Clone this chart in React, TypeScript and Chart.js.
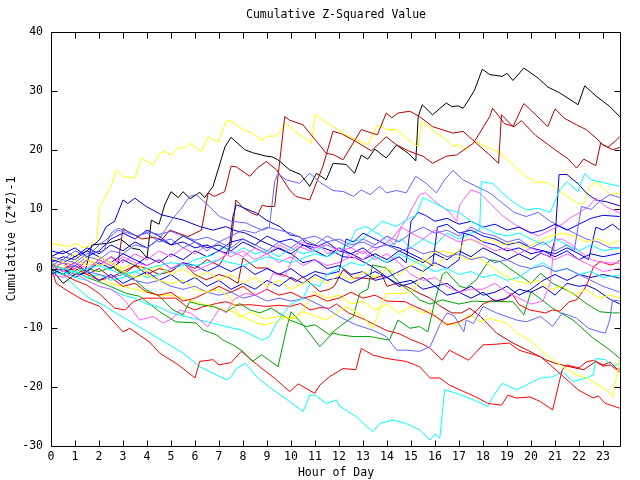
import React, { useEffect, useRef } from "react";
import { Chart, registerables } from "chart.js";

Chart.register(...registerables);

type P = [number, number];

const hourTicks: number[] = [0, 1, 2, 3, 4, 5, 6, 7, 8, 9, 10, 11, 12, 13, 14, 15, 16, 17, 18, 19, 20, 21, 22, 23];
const valueTicks: number[] = [-30, -20, -10, 0, 10, 20, 30, 40];
const X_MAX = 23.75;

const chartTitle = "Cumulative Z-Squared Value";
const xTitle = "Hour of Day";
const yTitle = "Cumulative (Z*Z)-1";

const black1: P[] = [[0,0],[0.5,-2.5],[1.0,-1],[1.4,-0.8],[1.7,4],[2.4,4.3],[2.9,5],[3.4,3.4],[3.7,3.2],[4.0,1.8],[4.18,8.2],[4.5,7.5],[4.74,10.8],[5.0,13],[5.3,12],[5.5,13],[5.8,11.8],[6.2,12.9],[6.4,12],[6.75,13.9],[7.25,20.6],[7.5,22.2],[8.07,20.1],[8.4,19.6],[8.97,19],[9.2,18.9],[9.45,18.4],[9.94,16.7],[10.4,15.9],[10.78,13.9],[11.06,16.1],[11.47,15],[11.75,17.8],[12.3,17.6],[12.65,16.1],[12.93,19.2],[13.2,18.5],[13.49,20.2],[13.97,18.7],[14.4,20.9],[14.88,19.5],[15.2,18.2],[15.3,25.7],[15.47,27.7],[15.9,26],[16.47,28],[16.7,27.4],[16.97,27.5],[17.17,27.1],[17.4,28.5],[17.65,30.2],[17.97,33.7],[18.28,32.8],[18.8,32.5],[19.0,33],[19.25,31.8],[19.7,33.9],[20.3,32.2],[20.7,30.7],[21.2,29.7],[21.96,27.7],[22.24,30.9],[22.7,29.2],[23.28,27.4],[23.7,25.7]];

const yellowTop: P[] = [[0,4.3],[0.4,4],[0.78,3.7],[1.06,4.3],[1.33,3.5],[1.7,4],[1.9,4.9],[2.03,10.5],[2.5,13.9],[2.73,16.7],[3.0,15.6],[3.49,15.3],[3.77,18.7],[4.25,17.5],[4.53,19.5],[4.75,19.8],[5.0,19.2],[5.3,20.4],[5.55,20.4],[5.78,21.2],[6.27,19.8],[6.54,22.3],[6.96,21.3],[7.3,24.9],[7.5,25],[8.0,23.5],[8.4,22.9],[8.77,21.7],[9.05,22.4],[9.4,22.4],[9.8,24.6],[10.15,23.2],[10.5,22.3],[10.85,21.2],[11.0,26],[11.3,25.2],[11.75,24],[12.45,22.3],[13.2,20.9],[13.6,24.3],[14.0,23.5],[14.4,23.5],[14.8,22.1],[15.3,20.6],[15.43,24.9],[15.99,23.2],[16.47,21.8],[16.75,20.6],[16.95,21],[17.3,20.1],[17.65,21.5],[18.28,20.4],[18.7,19.5],[19.18,17.8],[19.8,15.6],[20.2,14.6],[20.7,14.6],[21.5,12.2],[22.0,10.9],[22.2,11],[22.44,13.9],[22.7,14.7],[23.28,12.5],[23.7,12.8]];

const darkRedJump: P[] = [[0,0.5],[0.5,-0.5],[1,0.5],[1.5,-1],[2,0],[2.5,-1.5],[3,-0.5],[3.5,0.5],[4,-1],[4.5,0],[5,-0.5],[5.5,1],[6,0],[6.5,1.5],[7.0,0.5],[7.5,4],[7.7,11.6],[8.0,10.3],[8.35,9.4],[8.6,9.0],[8.8,10.7],[9.0,10.5],[9.32,10.5],[9.74,25.7],[9.94,25.1],[10.5,24.3],[11.47,19.5],[11.8,19.2],[12.17,18.4],[12.93,23.5],[13.6,22.6],[13.97,26.3],[14.2,25.5],[14.46,26.3],[14.95,26.6],[15.36,25.7],[15.9,24],[16.75,22.9],[17.17,23.2],[17.72,21.2],[18.28,19.2],[18.65,17.8],[18.77,26],[19.25,24],[19.7,27.9],[20.2,26],[20.7,24],[21.0,27],[21.4,25.4],[21.9,24.3],[22.3,23.5],[22.7,22.1],[23.0,20.9],[23.4,20.1],[23.7,20.5]];

const darkRedRise: P[] = [[0,0],[0.5,1],[1,-0.5],[1.5,1.5],[2,0.5],[2.5,2],[2.8,1],[3.0,6.8],[3.3,6],[3.8,5],[4.3,5.3],[4.6,4.8],[4.95,6.5],[5.3,6],[5.7,5.4],[6.27,6.5],[6.55,12.8],[6.8,12.2],[7.24,13],[7.5,17.3],[7.72,17.2],[8.28,15.6],[8.6,17],[8.97,18.1],[9.4,16.7],[9.94,13.3],[10.2,12.2],[10.78,11.6],[11.33,17.3],[11.75,23.2],[12.1,22.8],[12.7,21.5],[13.35,19.9],[13.97,22.3],[14.4,20.9],[14.95,19.8],[15.5,19],[15.9,17.8],[16.47,19],[16.9,19.2],[17.6,21.2],[18.28,25.7],[18.4,27.1],[18.9,24.5],[19.3,24],[19.6,25],[20.2,22.5],[20.7,21],[21.2,19.5],[21.5,18.7],[21.9,17],[22.2,18.5],[22.7,17.4],[22.9,21.2],[23.2,20.5],[23.5,21.5],[23.7,22.3]];

const darkRedFall: P[] = [[0,0.8],[0.5,0],[1,1],[1.5,-0.5],[2,1.5],[2.5,0.5],[3,-1],[3.5,0.5],[4,0],[4.5,-1],[5,-0.5],[5.5,1],[6,-1],[6.47,-1.9],[7,-1],[7.4,-1.5],[7.79,-2.5],[8.0,1.8],[8.55,0.1],[9.0,0.1],[9.4,-0.8],[9.8,-1.2],[10.2,-2.2],[10.5,-1.4],[10.9,-2.8],[11.2,-3.9],[11.6,-3.5],[11.8,-3.0],[12.17,-0.2],[12.6,-1.6],[13.0,-1.6],[13.4,-1.8],[13.8,-1.2],[14.0,-3],[14.4,-2.5],[14.8,-3],[15.36,-4.2],[15.8,-5],[16.2,-6.3],[16.7,-7.5],[17.1,-7.5],[17.45,-6.7],[17.9,-8.1],[18.56,-10.9],[19.25,-12.6],[19.95,-14],[20.6,-15.4],[21.0,-16],[21.6,-16.6],[22.2,-17.1],[22.7,-15.7],[23.0,-16.3],[23.3,-15.8],[23.56,-16.9],[23.7,-17]];

const cyanLow: P[] = [[0,0],[0.5,-1],[1,-3],[1.6,-5],[2.2,-6.2],[2.7,-7.5],[3.4,-9.2],[4.11,-10.9],[4.8,-12.6],[5.5,-14.3],[6.2,-16.6],[6.75,-17.7],[7.3,-18.8],[7.5,-18.3],[7.73,-16.9],[8.1,-16],[8.56,-18.3],[9.25,-20.5],[9.95,-22.5],[10.5,-24.2],[10.78,-21.4],[11.0,-21.4],[11.47,-22.8],[11.9,-22.2],[12.0,-23.2],[12.7,-25],[13.4,-27.6],[13.7,-26.2],[14.25,-25.6],[14.8,-26.2],[15.36,-27.3],[15.8,-29],[16.0,-28],[16.2,-28.7],[16.4,-20.5],[16.9,-21.1],[17.6,-22.2],[18.2,-23.3],[18.4,-21.7],[18.8,-19.4],[19.4,-20.5],[19.8,-19.7],[20.4,-18.5],[20.9,-18.3],[21.3,-17.4],[21.75,-19.1],[22.3,-18.5],[22.6,-18],[22.7,-15.2],[23.1,-15.4],[23.4,-16.6],[23.7,-16]];

const redLow: P[] = [[0,0],[0.22,-2.5],[0.7,-3.8],[1.33,-5.3],[2.03,-6.4],[2.5,-8.5],[3.0,-10.7],[3.28,-10.1],[4.1,-12.4],[4.53,-14.3],[5.2,-16],[5.5,-16.9],[6.0,-18.5],[6.2,-15.7],[6.75,-15.4],[7.0,-16.3],[7.5,-15.9],[7.93,-14],[8.1,-14.6],[8.7,-16.6],[9.3,-18.5],[9.95,-20.8],[10.3,-19.5],[10.99,-21.1],[11.2,-19.7],[11.6,-18.3],[12.17,-16.9],[12.7,-17.1],[12.93,-13.5],[13.4,-14.6],[13.97,-15.2],[14.8,-15.7],[15.36,-16.6],[15.8,-18.5],[16.2,-18.5],[16.6,-19.7],[17.2,-20.8],[17.7,-21.7],[18.2,-22.8],[18.77,-23.1],[19.04,-21.4],[19.4,-21.9],[19.95,-21.7],[20.4,-22.5],[20.9,-23.9],[21.3,-17.1],[21.5,-16.3],[22.0,-16.8],[22.3,-15.8],[22.6,-15.5],[23.0,-16.5],[23.3,-16.3],[23.7,-17.5]];

const redDescend: P[] = [[0,0],[0.5,-1],[1,-2],[1.5,-2.8],[2,-4.2],[2.66,-6.7],[3.1,-7],[3.42,-5.6],[3.84,-5],[4.4,-5],[5.2,-5],[5.64,-6.4],[6.0,-7],[6.3,-6.5],[6.9,-5.9],[7.3,-5.6],[7.7,-6.2],[8.28,-6.1],[8.97,-6.4],[9.5,-6.2],[9.95,-6.4],[10.4,-5.9],[10.8,-7],[11.2,-6.6],[11.6,-6.7],[11.9,-6],[12.4,-7.5],[13.0,-8.5],[13.5,-9.5],[14.0,-10.5],[14.5,-11],[15.0,-12],[15.5,-12.8],[15.8,-13.5],[16.3,-15.5],[16.6,-13.8],[17.4,-15.5],[18.0,-12.9],[18.5,-12.8],[19.1,-12.6],[19.5,-13.8],[20.4,-14.9],[21.0,-17],[21.5,-18.8],[21.96,-20.5],[22.6,-21.9],[22.8,-21.5],[23.1,-22.8],[23.7,-23.6]];

const redMid: P[] = [[0,0.5],[0.5,-0.5],[1,0],[1.5,-1],[2,-2],[2.5,-1.5],[3,-3],[3.5,-2.5],[4,-4],[4.5,-4.5],[5,-4],[5.5,-5.5],[6,-5],[6.5,-4],[7,-3],[7.5,-4],[8,-3],[8.5,-4.5],[9,-3.5],[9.5,-4.5],[10,-4],[10.5,-5],[11,-4.5],[11.5,-5.5],[12,-5],[12.5,-4],[13,-5],[13.5,-4.5],[14,-5.5],[14.75,-5.6],[15,-6.1],[15.5,-7],[16,-8],[16.5,-9.5],[17,-9],[17.5,-8],[18,-6],[18.4,-5.3],[18.8,-5.5],[19.2,-4.2],[19.5,-6.1],[19.95,-7],[20.6,-7.5],[20.9,-7],[21.2,-7.2],[21.6,-5.6],[21.9,-5.3],[22.2,-3.6],[22.35,-2.5],[22.6,0.3],[22.9,1.2],[23.3,0.6],[23.56,0.9],[23.7,1.5]];

const greenA: P[] = [[0,0],[0.5,-1],[1,-0.5],[1.5,-1.5],[2.17,-2.5],[3.14,-4.2],[3.7,-4.7],[4.53,-7.3],[5.2,-9],[6.05,-9.2],[6.33,-10.4],[6.9,-11.2],[7.17,-12.1],[7.58,-12.9],[8.0,-14],[8.4,-15.7],[8.77,-14.6],[9.1,-15.5],[9.46,-16.6],[9.8,-10.4],[10.0,-7.3],[10.5,-9.5],[11.2,-13.2],[11.75,-10.9],[12.03,-11.2],[12.6,-11.5],[13.3,-11.5],[14.1,-12.1],[14.46,-8.7],[14.95,-10.1],[15.36,-9.8],[15.7,-10.7],[15.99,-5.6],[16.3,-1.1],[16.47,-0.5],[17.03,-3],[17.3,-3.3],[17.72,-1.9],[18.28,1.5],[18.7,1.2],[19.5,-1.1],[20.0,-2.5],[20.4,-0.8],[20.9,-2.5],[21.75,-4.2],[22.3,-5.9],[22.86,-7.3],[23.4,-7.5],[23.7,-7.5]];

const greenB: P[] = [[0,0.5],[0.5,0],[1,-1],[1.5,0],[2,-0.5],[2.58,0.3],[3.35,-1.4],[3.97,-3.6],[4.53,-4.7],[5.08,-7],[5.5,-7.8],[5.78,-5.6],[6.2,-6.1],[6.75,-6.4],[7.3,-7.3],[7.86,-5.9],[8.3,-7],[8.7,-7.5],[9.18,-6.7],[9.95,-8.7],[10.64,-9.8],[11.0,-9.5],[11.6,-11.2],[12.03,-9.8],[12.6,-8.1],[12.86,-4.2],[13.2,-3.5],[13.4,0.6],[13.97,0.1],[14.53,-2.5],[15.0,-4],[15.36,-5.3],[15.8,-6],[16.3,-5.3],[17,-6],[17.6,-5.5],[18.1,-5.6],[19.25,-5.6],[19.7,-7.8],[20.0,-3.9],[20.9,-6.7],[21.75,-8.7],[22.6,-11.8],[23.3,-13.8],[23.7,-15.2]];

const cyanMid: P[] = [[0,0],[0.5,-0.5],[1,-1.5],[1.5,-2],[2,-3],[2.5,-3.5],[3,-4.5],[3.5,-5],[4,-6],[4.5,-6.5],[5,-7.5],[5.5,-8],[6,-8.5],[6.5,-9],[7,-9.5],[7.5,-10],[8,-10.5],[8.5,-11.5],[8.8,-12.1],[9.1,-11.5],[9.4,-9.2],[9.7,-7.5],[10,-6],[10.5,-5],[10.8,-2.5],[11.2,-3],[11.5,-1],[12,0],[12.5,1],[13,0.5],[13.5,2],[14,1],[14.5,2.5],[15,1.5],[15.5,0.5],[16,-0.5],[16.5,0],[17,-1],[17.5,-0.5],[18,-1.5],[18.5,-1],[19,-2],[19.5,-1.5],[20,0],[20.5,1],[21,-0.5],[21.5,0],[22,-1],[22.5,-0.5],[23,-1.5],[23.7,-1.1]];

const cyanJump: P[] = [[0,-0.5],[0.5,-1],[1,-0.5],[1.5,-1.5],[2,-1],[2.5,-2],[3,-1.5],[3.5,-0.5],[4,-1.5],[4.5,-1],[5,0],[5.5,0.5],[6,1.5],[6.75,2.3],[7.17,3.7],[7.6,2.5],[8,3.5],[8.5,2.5],[9,3],[9.5,2],[10,3.5],[10.5,2.5],[11,3],[11.5,4],[12,3],[12.5,4.5],[13,5],[13.35,6.5],[13.8,5.5],[14.2,4],[14.6,5],[15,3.5],[15.5,5],[16,4],[16.5,6],[17,5],[17.5,6],[17.86,6.5],[17.93,14.7],[18.4,14.4],[18.8,12.8],[19.25,11.3],[19.8,9.9],[20.3,10.2],[20.8,9.5],[21.2,13.3],[21.5,14.7],[21.96,13],[22.24,16.1],[22.5,15],[23.14,14.4],[23.7,13.9]];

const cyanUpper: P[] = [[0,0.5],[1,-0.5],[2,0.5],[3,-1],[4,0],[5,1],[6,0.5],[7,1.5],[8,0.5],[9,2],[10,1],[11,2.5],[11.5,2],[12,3],[12.45,4.3],[12.7,6.5],[13.1,7.1],[13.4,6.5],[13.8,8],[14.4,7.1],[14.8,8.2],[15.2,9],[15.5,12],[16,11],[16.5,10],[17,9.5],[17.5,8],[18,7],[18.5,6],[19,5.5],[19.5,6],[20,5],[20.5,4],[21,5],[21.5,4],[22,3],[22.5,4],[23,3],[23.7,3.5]];

const navyPeak: P[] = [[0,1.5],[0.5,1],[1,2],[1.5,3],[2.03,4.9],[2.3,7.1],[2.65,8],[3.0,11.6],[3.2,11],[3.49,11.9],[3.97,10.5],[4.6,9.1],[5.5,8.2],[6.2,7.1],[6.75,6.5],[7.3,7.1],[7.6,6.5],[8.1,6],[8.8,4.6],[9.4,3.5],[10,2.5],[10.5,1],[11,1.5],[11.5,0],[12,0.5],[12.5,-1],[13,-0.5],[13.5,-2],[14,-1.5],[14.5,-3],[15,-2.5],[15.5,-1.5],[16,-3],[16.5,-2.5],[17,-4],[17.5,-3],[18,-4.5],[18.5,-4],[19,-3],[19.5,-4.5],[20,-3.5],[20.5,-2],[21,-1],[21.5,-2],[22,-1],[22.5,-1.5],[23,-1],[23.7,-1.6]];

const navyStep: P[] = [[0,0],[0.5,-1],[1,0.5],[1.5,-0.5],[2,1],[2.5,0],[3,1.5],[3.5,0.5],[4,2],[4.5,1],[5,2.5],[5.5,1.5],[6,3],[6.5,2],[7,3],[7.4,2.5],[7.58,8.8],[7.72,10.8],[8.07,10.2],[8.56,9.4],[8.97,8.2],[9.53,7.1],[9.95,5.7],[10.36,5.4],[10.64,4.3],[11.2,3.7],[11.75,2.9],[12.17,2],[12.7,1.8],[13.4,0.3],[13.97,-1.4],[14.4,-2.5],[15,-2],[15.5,-3.5],[16,-3],[16.5,-4.5],[17,-4],[17.5,-5],[18,-4],[18.5,-5.5],[19,-5],[19.5,-3.5],[20,-4],[20.5,-3],[21,-4.5],[21.5,-2.5],[22,-3],[22.3,-2.8],[22.7,-3.5],[23.3,-5.2],[23.7,-6]];

const navyLate: P[] = [[0,2],[0.5,3],[1,2],[1.5,3.5],[2,2.5],[2.5,4],[3,3],[3.5,4.5],[4,3.5],[4.5,5],[5,4],[5.5,5.5],[6,4.5],[6.5,3.5],[7,4],[7.5,3],[8,4.5],[8.5,3.5],[9,2.5],[9.5,3.5],[10,2.5],[10.5,4],[11,3],[11.5,2],[12,3.5],[12.5,2.5],[13,1.5],[13.5,2.5],[14,1.5],[14.5,3],[15,2],[15.5,1],[16,2.5],[16.5,1.5],[17,3],[17.5,2],[18,3.5],[18.5,2.5],[19,1.5],[19.5,2.5],[20,1.5],[20.4,2.6],[20.8,2],[21.0,4.9],[21.17,15.9],[21.5,15.9],[22.0,14.2],[22.3,12.8],[22.7,11.6],[23.14,11.3],[23.7,10.6]];

const slateLow: P[] = [[0,1],[0.5,0],[1,0.5],[1.5,-0.5],[2,-1],[2.5,-1.5],[3,-1],[3.5,-2],[4,-2.5],[4.5,-2],[5,-3],[5.5,-3.5],[6,-3],[6.5,-4],[7,-4.5],[7.5,-4],[8,-5],[8.5,-4.5],[9,-5.5],[9.5,-5],[10,-5.5],[10.6,-5],[11.47,-6.7],[12,-8.1],[12.7,-9.5],[13.4,-10.4],[13.97,-11.5],[14.4,-13.8],[14.8,-13.8],[15.36,-14],[15.8,-13.2],[16.2,-9.5],[16.5,-7.5],[16.8,-8],[17.2,-10.7],[17.3,-8.7],[17.6,-9.3],[18,-6.4],[18.56,-7.5],[19.4,-8.7],[19.8,-9],[20.4,-8.1],[20.9,-9.8],[21.3,-7.5],[21.9,-8.4],[22.4,-10.1],[22.86,-10.7],[23.1,-10.9],[23.28,-8.7],[23.4,-5.3],[23.7,-5.5]];

const slateTop: P[] = [[0,0],[0.5,1],[1,0.5],[1.5,2],[2,1.5],[2.5,3],[3,2.5],[3.5,4],[4,3.5],[4.5,5],[5.08,8.5],[5.4,10],[5.78,12.2],[6.05,12.5],[6.6,10.5],[7.03,8.8],[7.5,8],[8.14,7.7],[8.5,7],[8.83,6.5],[9.1,7],[9.32,14.7],[9.45,16.1],[9.8,15],[10.36,14.4],[10.78,16.1],[11.2,14.6],[11.75,13.2],[12.2,13],[12.6,12.2],[12.93,13.3],[13.3,12.5],[13.7,13.9],[13.97,12.8],[14.4,13.2],[14.8,12.8],[15.2,15.6],[15.64,14.4],[16.06,12.8],[16.4,15],[16.75,16.6],[17.17,15],[17.72,13.9],[18.28,12.8],[18.8,11.1],[19.3,9.5],[19.8,8.8],[20.3,9.5],[20.8,8],[21.3,7],[21.8,6],[22.3,5],[22.8,4.5],[23.3,3.5],[23.7,3.5]];

const slateLate: P[] = [[0,2],[0.5,1.5],[1,3],[1.5,2],[2,4],[2.5,5.5],[2.8,6.5],[3.2,6],[3.6,5.5],[4,6],[4.5,4.5],[5,5],[5.5,3.5],[6,4.5],[6.5,3],[7,4.5],[7.5,3.5],[8,5],[8.5,4],[9,3],[9.5,4.5],[10,3.5],[10.5,5],[11,4],[11.5,5.5],[12,4.5],[12.5,3.5],[13,5],[13.5,4],[14,5.5],[14.5,4.5],[15,6],[15.5,7],[16,6],[16.5,6.5],[17,5.5],[17.5,7],[18,6],[18.5,5.5],[19,4.5],[19.5,5],[20,3.5],[20.5,4.5],[21,3],[21.5,4],[21.8,3],[22.1,10.5],[22.5,10],[22.9,11.5],[23.3,12.5],[23.7,12]];

const slateMid: P[] = [[0,0.5],[0.5,1.5],[1,1],[1.5,2.5],[2.2,3],[2.5,6],[2.8,6.8],[3.2,6.3],[3.6,5.5],[4,6.2],[4.5,5.8],[5,6.3],[5.5,5.5],[6,4.8],[6.5,5.3],[7,4.5],[7.5,5.5],[8,6.5],[8.5,6],[9,7],[9.5,6.5],[10,6],[10.5,5],[11,5.5],[11.5,4.5],[12,5],[12.5,4],[13,4.5],[13.5,3.5],[14,4],[14.5,3],[15,3.5],[15.5,2.5],[16,3],[16.5,2],[17,2.5],[17.5,1.5],[18,2],[18.5,1],[19,1.5],[19.5,0.5],[20,0],[20.5,0.5],[21,-0.5],[21.5,0],[22,-1],[22.5,-2],[23,-3],[23.7,-4]];

const blueA: P[] = [[0,1],[0.5,2],[1,1.5],[1.5,3],[2,2],[2.5,1],[3,2.5],[3.5,1.5],[4,0.5],[4.5,1.5],[5,0],[5.5,1],[6,0.5],[6.5,-0.5],[7,0.5],[7.5,-0.5],[8,0.5],[8.5,-1],[9,0],[9.5,-1],[10,0],[10.5,-1.5],[11,-0.5],[11.5,-1],[12,-0.5],[12.3,5],[12.6,4.5],[13,6],[13.5,5],[14,4],[14.5,3.5],[15,2.5],[15.5,1.5],[15.9,0.5],[16.1,7],[16.5,7.5],[17,6],[17.5,6.5],[18,5.5],[18.5,5],[19,4],[19.5,4.5],[20,3.5],[20.5,3],[21,2.5],[21.5,3.5],[22,2.5],[22.4,1.5],[22.7,7],[23,6.5],[23.4,7.5],[23.7,6.5]];

const blueB: P[] = [[0,3],[0.5,2.5],[1,3.5],[1.5,2],[2,3],[2.5,5],[3,6],[3.5,5],[4,6.5],[4.5,5.5],[5,4],[5.5,4.5],[6,3.5],[6.5,4],[7,3],[7.5,4.5],[8,5],[8.5,4],[9,5.5],[9.5,4.5],[10,5],[10.5,4],[11,3.5],[11.5,4.5],[12,3],[12.5,2.5],[13,3.5],[13.5,2],[14,1],[14.5,2],[14.8,1],[15.0,8],[15.3,9.5],[15.6,9],[16,8],[16.5,8.5],[17,7.5],[17.5,8],[18,7],[18.5,7.5],[19,6.5],[19.5,7],[20,6],[20.5,6.5],[21,7.5],[21.5,6.5],[22,7.5],[22.5,8.5],[23,9],[23.7,8.8]];

const blueC: P[] = [[0,-1],[0.5,0],[1,-1.5],[1.5,-0.5],[2,-2],[2.5,-1],[3,-2.5],[3.5,-1.5],[4,-0.5],[4.5,-2],[5,-1],[5.5,-2.5],[6,-1.5],[6.5,-3],[7,-2],[7.5,-3.5],[8,-2.5],[8.5,-3.5],[9,-2],[9.5,-3],[10,-1.5],[10.5,-2.5],[11,-1],[11.5,-2],[12,-1.5],[12.5,-2.5],[13,-1.5],[13.5,-0.5],[14,-1.5],[14.5,-0.5],[15,0.5],[15.5,-0.5],[16,1],[16.5,0],[17,1.5],[17.2,6],[17.6,5.5],[18,4.5],[18.5,4],[19,3],[19.5,3.5],[20,2.5],[20.5,3],[21,2],[21.5,3],[22,1.5],[22.5,2.5],[23,2],[23.7,2.6]];

const yellowFall: P[] = [[0,0],[0.5,-0.5],[1,0.5],[1.5,-1],[2,-1.5],[2.45,-2.5],[3,-3],[3.5,-3.5],[4,-4],[4.5,-4.5],[5,-4.5],[5.5,-5],[6.2,-5.9],[6.8,-6.5],[7.58,-7.3],[8.14,-8.4],[8.56,-9.2],[8.97,-9.5],[9.4,-9],[9.8,-8.1],[10.2,-8.5],[10.6,-6.5],[11,-4],[11.5,-5],[12,-4.5],[12.5,-6],[13,-5.5],[13.5,-7],[14,-6],[14.5,-7.5],[15,-6.5],[15.5,-7.5],[15.8,-7],[16.3,-9.2],[16.9,-9.5],[17.45,-7.8],[17.86,-9],[18.28,-8.4],[18.97,-9.2],[19.4,-10.9],[19.95,-12.1],[20.4,-13.8],[20.9,-15.4],[21.5,-17.1],[21.9,-18],[22.3,-18.5],[22.7,-19.4],[23.14,-20.5],[23.4,-21.7],[23.56,-18.3],[23.7,-15.4]];

const yellowMid: P[] = [[0,2],[0.5,1],[1,2.5],[1.5,1.5],[2,0.5],[2.5,1],[3,-0.5],[3.5,-1.5],[4,-1],[4.5,-2],[5,-2.5],[5.5,-2],[6,-3.5],[6.5,-4],[7,-3.5],[7.5,-5],[7.86,-8.4],[8.28,-7.3],[8.9,-8.5],[9.53,-8.1],[10,-8.5],[10.5,-7.3],[11,-8],[11.47,-8.7],[12.3,-6.4],[13,-8.1],[13.4,-10.1],[13.8,-5.9],[13.97,-4.2],[14.8,-4.2],[15.2,-3],[15.8,2.6],[16.3,3],[16.8,2.5],[17.3,1.5],[17.8,2],[18.3,0.5],[18.8,-1],[19.3,-2],[19.8,-2.5],[20.3,-2],[20.8,-3.5],[21.3,-3],[21.8,-4.5],[22.3,-3.5],[22.8,-5],[23.3,-4.5],[23.7,-5]];

const yellowUp: P[] = [[0,1],[0.5,0],[1,1.5],[1.5,0.5],[2,2],[2.5,1],[3,0],[3.5,1],[4,-0.5],[4.5,0.5],[5,-1],[5.5,0],[6,-1.5],[6.5,-0.5],[7,-2],[7.5,-1],[8,-2.5],[8.5,-1.5],[9,-3],[9.5,-2],[10,-3.5],[10.5,-2.5],[11,-1.5],[11.5,-2.5],[12,-1],[12.5,-2],[13,-0.5],[13.5,-1.5],[14,0],[14.5,-1],[15,0.5],[15.5,1.5],[16,0.5],[16.5,2],[17,3],[17.3,5],[17.8,4.5],[18.3,5],[18.8,4],[19.3,4.5],[19.8,3.5],[20.3,4.5],[20.8,5.5],[21.3,6],[21.8,5.5],[22.3,4.5],[22.8,5],[23.3,4],[23.7,4.9]];

const magentaLow: P[] = [[0,-1],[0.5,-1.5],[1,-0.8],[1.5,-2],[2,-3],[2.5,-3.5],[3,-5],[3.7,-8.7],[4.25,-8.1],[4.67,-9.2],[5.08,-8.4],[5.36,-7],[5.8,-7.5],[6.2,-8.7],[6.54,-9.8],[7.03,-6.7],[7.3,-7.5],[7.6,-5.3],[8.1,-4.2],[8.5,-4.5],[8.97,-3.6],[9.25,-0.8],[9.74,-1.4],[10.1,2],[10.36,3.7],[10.8,3],[11.2,4],[11.5,2.5],[12,3.5],[12.5,2],[13,3],[13.5,1.5],[14,2.5],[14.5,1],[15,-1],[15.5,-2],[16,-1.5],[16.5,-3],[17,-4],[17.5,-3.5],[18,-3.5],[18.5,-2.5],[19,-4],[19.5,-5],[20,-6],[20.5,-5.5],[20.8,-2.5],[20.9,1.5],[21.0,4.9],[21.3,5],[21.7,4],[22,3],[22.5,1.5],[23,1],[23.7,0.9]];

const magentaPeak: P[] = [[0,0],[0.5,1],[1,0],[1.5,1.5],[2,0.5],[2.5,2],[3,1],[3.5,2.5],[4,1.5],[4.5,3],[5,2],[5.5,3.5],[6,2.5],[6.5,4],[7,3],[7.5,2],[8,3],[8.5,1.5],[9,2.5],[9.5,1],[10,2],[10.5,0.5],[11,1.5],[11.5,0.5],[12,1],[12.5,2],[13,1.5],[13.4,2.9],[14.2,5],[14.8,8.2],[15.08,10.5],[15.36,12.5],[15.6,12.8],[16.1,11],[16.6,9.6],[16.9,8],[17.03,10.8],[17.5,13.3],[17.86,12.8],[18.3,11],[18.8,9],[19.3,7.5],[19.8,6.5],[20.3,5.5],[20.8,6.5],[21.3,7.5],[21.6,8.5],[22,9.4],[22.4,10.5],[22.7,11.9],[23.1,10.5],[23.7,9.4]];

const magentaMid: P[] = [[0,0.5],[0.5,-0.5],[1,1],[1.5,0],[2,1.5],[2.5,0.5],[3,2],[3.5,1],[4,0.5],[4.5,1.5],[5,0],[5.5,1],[6,-0.5],[6.5,0.5],[7,1.5],[7.5,3],[8,2],[8.5,3.5],[9,2.5],[9.5,4],[10,3],[10.5,4.5],[11,3.5],[11.5,4],[12,3],[12.5,3.5],[13,2.5],[13.5,4],[14,5.5],[14.3,4],[14.6,7],[15,6],[15.5,5],[16,6.5],[16.5,5.5],[17,4.5],[17.5,5],[18,4],[18.5,3],[19,3.5],[19.5,2.5],[20,3.5],[20.5,2.5],[21,1.5],[21.5,2.5],[22,1.5],[22.5,0.5],[23,-0.5],[23.7,0]];

const C_BLACK = "#000000";
const C_DARKRED = "#b40000";
const C_RED = "#ff0000";
const C_YELLOW = "#ffff00";
const C_BLUE = "#0000ff";
const C_NAVY = "#0000c8";
const C_SLATE = "#6464ff";
const C_MAGENTA = "#ff5aff";
const C_CYAN = "#00ffff";
const C_GREEN = "#00a000";

const seriesList: { data: P[]; color: string }[] = [
  { data: slateMid, color: C_SLATE },
  { data: slateLate, color: C_SLATE },
  { data: magentaMid, color: C_MAGENTA },
  { data: cyanUpper, color: C_CYAN },
  { data: yellowUp, color: C_YELLOW },
  { data: yellowMid, color: C_YELLOW },
  { data: magentaLow, color: C_MAGENTA },
  { data: cyanMid, color: C_CYAN },
  { data: slateLow, color: C_SLATE },
  { data: blueC, color: C_BLUE },
  { data: blueA, color: C_BLUE },
  { data: blueB, color: C_BLUE },
  { data: magentaPeak, color: C_MAGENTA },
  { data: cyanJump, color: C_CYAN },
  { data: slateTop, color: C_SLATE },
  { data: navyPeak, color: C_NAVY },
  { data: navyStep, color: C_NAVY },
  { data: navyLate, color: C_NAVY },
  { data: redMid, color: C_RED },
  { data: greenB, color: C_GREEN },
  { data: greenA, color: C_GREEN },
  { data: yellowFall, color: C_YELLOW },
  { data: redDescend, color: C_RED },
  { data: redLow, color: C_RED },
  { data: cyanLow, color: C_CYAN },
  { data: darkRedFall, color: C_DARKRED },
  { data: darkRedRise, color: C_DARKRED },
  { data: darkRedJump, color: C_DARKRED },
  { data: yellowTop, color: C_YELLOW },
  { data: black1, color: C_BLACK },
];

const FONT = "'DejaVu Sans Mono', monospace";

const framePlugin = {
  id: "gnuframe",
  afterDraw(chart: any) {
    const { ctx, chartArea: a, scales } = chart;
    const xs = scales.x;
    const ys = scales.y;
    ctx.save();
    ctx.strokeStyle = "#000";
    ctx.lineWidth = 1;
    const L = Math.round(a.left) + 0.5;
    const R = Math.round(a.right) - 0.5;
    const T = Math.round(a.top) + 0.5;
    const B = Math.round(a.bottom) + 0.5;
    ctx.beginPath();
    ctx.rect(L, T, R - L, B - T);
    const TL = 6;
    for (const h of hourTicks) {
      const px = Math.round(xs.getPixelForValue(h)) + 0.5;
      ctx.moveTo(px, B);
      ctx.lineTo(px, B - TL);
      ctx.moveTo(px, T);
      ctx.lineTo(px, T + TL);
    }
    for (const v of valueTicks) {
      const py = Math.round(ys.getPixelForValue(v)) + 0.5;
      ctx.moveTo(L, py);
      ctx.lineTo(L + TL, py);
      ctx.moveTo(R, py);
      ctx.lineTo(R - TL, py);
    }
    ctx.stroke();
    ctx.fillStyle = "#000";
    ctx.font = `11.5px ${FONT}`;
    ctx.textAlign = "center";
    ctx.textBaseline = "middle";
    const cx = (a.left + a.right) / 2;
    ctx.fillText(chartTitle, cx, 15.5);
    ctx.fillText(xTitle, cx, 473.5);
    ctx.translate(12, (a.top + a.bottom) / 2);
    ctx.rotate(-Math.PI / 2);
    ctx.fillText(yTitle, 0, 0);
    ctx.restore();
  },
};

export default function App() {
  const ref = useRef<HTMLCanvasElement | null>(null);

  useEffect(() => {
    document.body.style.margin = "0";
    const canvas = ref.current;
    if (!canvas) return;
    const chart = new Chart(canvas, {
      type: "line",
      data: {
        datasets: seriesList.map((s, i) => ({
          label: `series ${i + 1}`,
          data: s.data.map(([x, y]) => ({ x, y })),
          borderColor: s.color,
          backgroundColor: s.color,
          borderWidth: 1,
          pointRadius: 0,
          pointHoverRadius: 0,
          tension: 0,
          fill: false,
        })),
      },
      options: {
        animation: false,
        responsive: false,
        devicePixelRatio: 1,
        events: [],
        layout: { padding: { top: 32, right: 19, left: 0, bottom: 0 } },
        plugins: {
          legend: { display: false },
          title: { display: false },
          tooltip: { enabled: false },
        },
        scales: {
          x: {
            type: "linear",
            min: 0,
            max: X_MAX,
            grid: { display: false, drawTicks: false },
            border: { display: false },
            afterFit: (scale: any) => {
              scale.height = 34;
            },
            afterBuildTicks: (scale: any) => {
              scale.ticks = hourTicks.map((v) => ({ value: v }));
            },
            ticks: {
              autoSkip: false,
              maxRotation: 0,
              padding: 4,
              color: "#000",
              font: { family: FONT, size: 11.5 },
              callback: (v: any) => String(v),
            },
          },
          y: {
            type: "linear",
            min: -30,
            max: 40,
            grid: { display: false, drawTicks: false },
            border: { display: false },
            afterFit: (scale: any) => {
              scale.width = 51;
            },
            afterBuildTicks: (scale: any) => {
              scale.ticks = valueTicks.map((v) => ({ value: v }));
            },
            ticks: {
              padding: 8,
              color: "#000",
              font: { family: FONT, size: 11.5 },
              callback: (v: any) => String(v),
            },
          },
        },
      },
      plugins: [framePlugin],
    });
    return () => chart.destroy();
  }, []);

  return (
    <div style={{ width: 640, height: 480, background: "#fff" }}>
      <canvas ref={ref} width={640} height={480} style={{ display: "block" }} />
    </div>
  );
}
